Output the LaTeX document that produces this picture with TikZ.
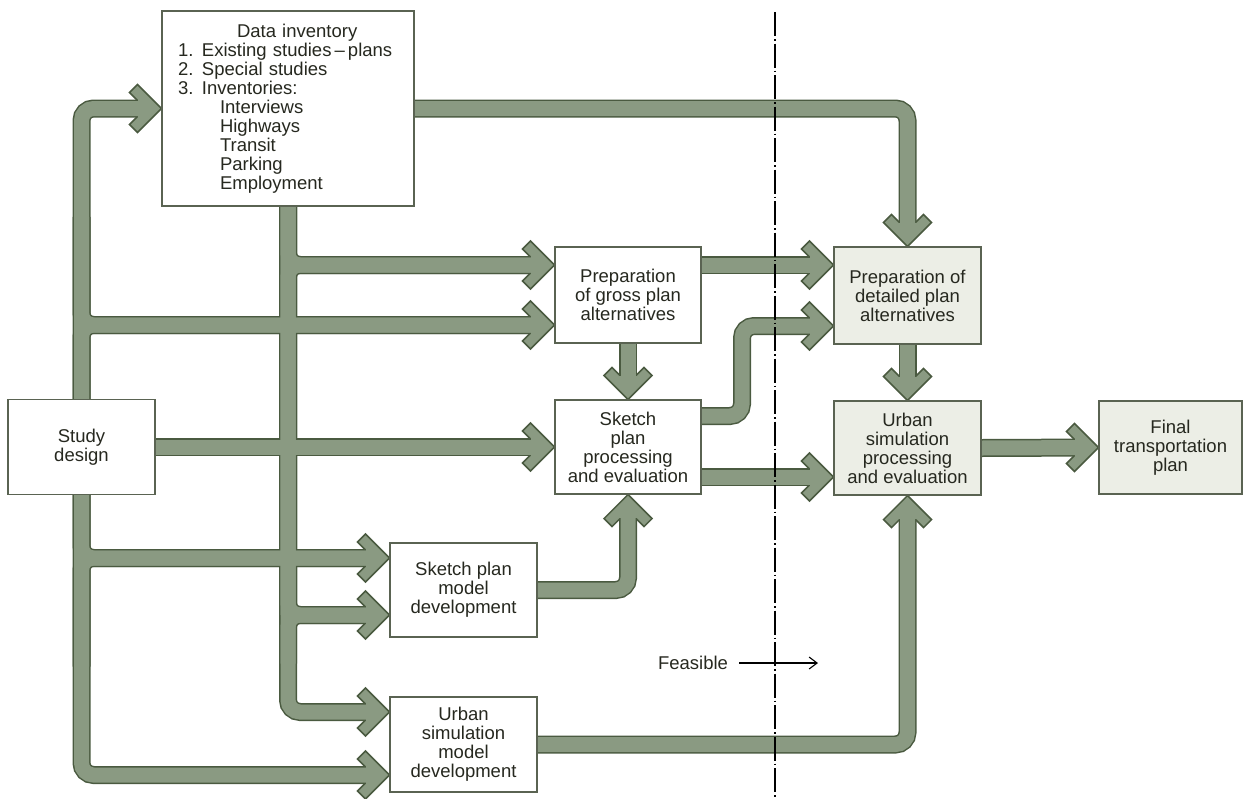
\documentclass[tikz,border=0pt]{standalone}
\usepackage{fontspec}
\setmainfont{Liberation Sans}
\usetikzlibrary{arrows.meta,calc}
\pgfdeclarelayer{bg}
\pgfsetlayers{bg,main}
\definecolor{flowfill}{HTML}{8A9A82}
\definecolor{flowedge}{HTML}{4A5A40}
\definecolor{boxline}{HTML}{5A6352}
\definecolor{shade}{HTML}{ECEEE6}
\definecolor{ink}{HTML}{26281F}

% every thick flow band, drawn once per layer style
\newcommand\allshafts[1]{%
  % study design trunk
  \draw[#1] (study.north) -- (ltop) -- (inv.west);
  \draw[#1] ($(ltop)!0.5!(study.north |- g2)$) -- (study.north |- g2) -- (g2);
  \draw[#1] (study.north) -- (study.north |- g2) -- (g2);
  \draw[#1] (study.east) -- (sproc.west);
  \draw[#1] (study.south) -- (study.south |- sm1) -- (sm1);
  \draw[#1] ($(study.south |- sm1)!0.5!(lbot)$) -- (study.south |- sm1) -- (sm1);
  \draw[#1] (study.south) -- (lbot) -- (um2);
  % data inventory trunk
  \draw[#1] (inv.south) -- (inv.south |- g1) -- (g1);
  \draw[#1] (inv.south |- sm2) -- (inv.south |- g1) -- (g1);
  \draw[#1] (inv.south) -- (inv.south |- sm2) -- (sm2);
  \draw[#1] ($(inv.south |- sm2)!0.5!(rbot)$) -- (inv.south |- sm2) -- (sm2);
  \draw[#1] (inv.south) -- (rbot) -- (um1);
  % right-hand flows
  \draw[#1] (inv.east) -- (inv.east -| detail.north) -- (detail.north);
  \draw[#1] (gross.east |- d1) -- (d1);
  \draw[#1] (gross.south) -- (sproc.north);
  \draw[#1] (sp1) -- (sp1 -| jog) -- (d2 -| jog) -- (d2);
  \draw[#1] (sp2) -- (sp2tip);
  \draw[#1] (smodel.east) -- (smodel.east -| sproc.south) -- (sproc.south);
  \draw[#1] (detail.south) -- (uproc.north);
  \draw[#1] (umodel.east) -- (umodel.east -| uproc.south) -- (uproc.south);
  \draw[#1] (uproc.east) -- (final.west);
}

\begin{document}
\begin{tikzpicture}[x=1pt,y=-1pt,
  font=\fontsize{18.5}{19}\selectfont, text=ink,
  box/.style={draw=boxline, line width=1.1pt, fill=white, align=center,
    inner sep=0pt, minimum width=147pt, minimum height=95pt},
  tinted/.style={box, fill=shade},
  shaftout/.style={draw=flowedge, line width=18pt, rounded corners=12pt, shorten >=23pt},
  shaftin/.style={draw=flowfill, line width=15pt, rounded corners=12pt, shorten >=21pt},
  divider/.style={draw=black, line width=1.3pt, dash pattern=on 24pt off 3pt on 1.5pt off 3pt},
  thinarrow/.style={draw=black, line width=1.1pt, -{Straight Barb[length=8pt,width=12pt,line width=1.1pt]}},
  chevhead/.pic={\filldraw[fill=flowfill, draw=flowedge, line width=1.5pt, line join=miter]
    (0,0) -- (-24,24) -- (-32,16) -- (-24.25,8.25) -- (-24.25,-8.25) -- (-32,-16) -- (-24,-24) -- cycle;}
]
\useasboundingbox (0,0) rectangle (1245,798);

% boxes
\node[box, minimum width=252pt, minimum height=195pt, align=left, text width=220pt] (inv) at (288,108.5)
  {\hspace*{59pt}Data inventory\\
   \makebox[24pt][l]{1.}Existing studies\,--\,plans\\
   \makebox[24pt][l]{2.}Special studies\\
   \makebox[24pt][l]{3.}Inventories:\\
   \hspace*{42pt}Interviews\\
   \hspace*{42pt}Highways\\
   \hspace*{42pt}Transit\\
   \hspace*{42pt}Parking\\
   \hspace*{42pt}Employment};
\node[box] (study) at (81.5,447) {Study\\design};
\node[box, minimum width=146pt, minimum height=96pt] (gross) at (628,295) {Preparation\\of gross plan\\alternatives};
\node[box, minimum width=146pt, minimum height=94pt] (sproc) at (628,447) {Sketch\\plan\\processing\\and evaluation};
\node[box, minimum height=94pt] (smodel) at (463.5,590) {Sketch plan\\model\\development};
\node[box] (umodel) at (463.5,744.5) {Urban\\simulation\\model\\development};
\node[tinted, minimum height=97pt] (detail) at (907.5,295.5) {Preparation of\\detailed plan\\alternatives};
\node[tinted, minimum height=94pt] (uproc) at (907.5,448) {Urban\\simulation\\processing\\and evaluation};
\node[tinted, minimum width=143pt, minimum height=93pt] (final) at (1170.5,447.5) {Final\\transportation\\plan};

% arrow tip points on the box sides
\coordinate (g1) at ([yshift=30pt]gross.west);
\coordinate (g2) at ([yshift=-30pt]gross.west);
\coordinate (sm1) at ([yshift=32pt]smodel.west);
\coordinate (sm2) at ([yshift=-25pt]smodel.west);
\coordinate (um1) at ([yshift=32.5pt]umodel.west);
\coordinate (um2) at ([yshift=-30.5pt]umodel.west);
\coordinate (d1) at ([yshift=30.5pt]detail.west);
\coordinate (d2) at ([yshift=-30.5pt]detail.west);
\coordinate (sp1) at ([yshift=31pt]sproc.east);
\coordinate (sp2) at ([yshift=-30pt]sproc.east);
\coordinate (sp2tip) at (sp2 -| uproc.west);
\coordinate (jog) at (742,416);
% trunk corners
\coordinate (ltop) at (study.north |- inv.west);
\coordinate (lbot) at (study.south |- um2);
\coordinate (rbot) at (inv.south |- um1);

\begin{pgfonlayer}{bg}
  \allshafts{shaftout}
  \foreach \p/\a in {inv.west/0, g1/0, g2/0, sproc.west/0, sm1/0, sm2/0, um1/0, um2/0,
      detail.north/-90, d1/0, sproc.north/-90, d2/0, sp2tip/0, sproc.south/90,
      uproc.north/-90, uproc.south/90, final.west/0}
    \pic[rotate=\a] at (\p) {chevhead};
  \allshafts{shaftin}
\end{pgfonlayer}

% feasibility boundary
\coordinate (divtop) at (775,12);
\coordinate (divbot) at (775,798);
\draw[divider] (divtop) -- (divbot);
\node[inner sep=0pt, outer sep=0pt, anchor=east] (feas) at (728,663) {Feasible};
\coordinate (feasend) at (818,663);
\draw[thinarrow] ([xshift=11pt]feas.east) -- (feasend);
\end{tikzpicture}
\end{document}
